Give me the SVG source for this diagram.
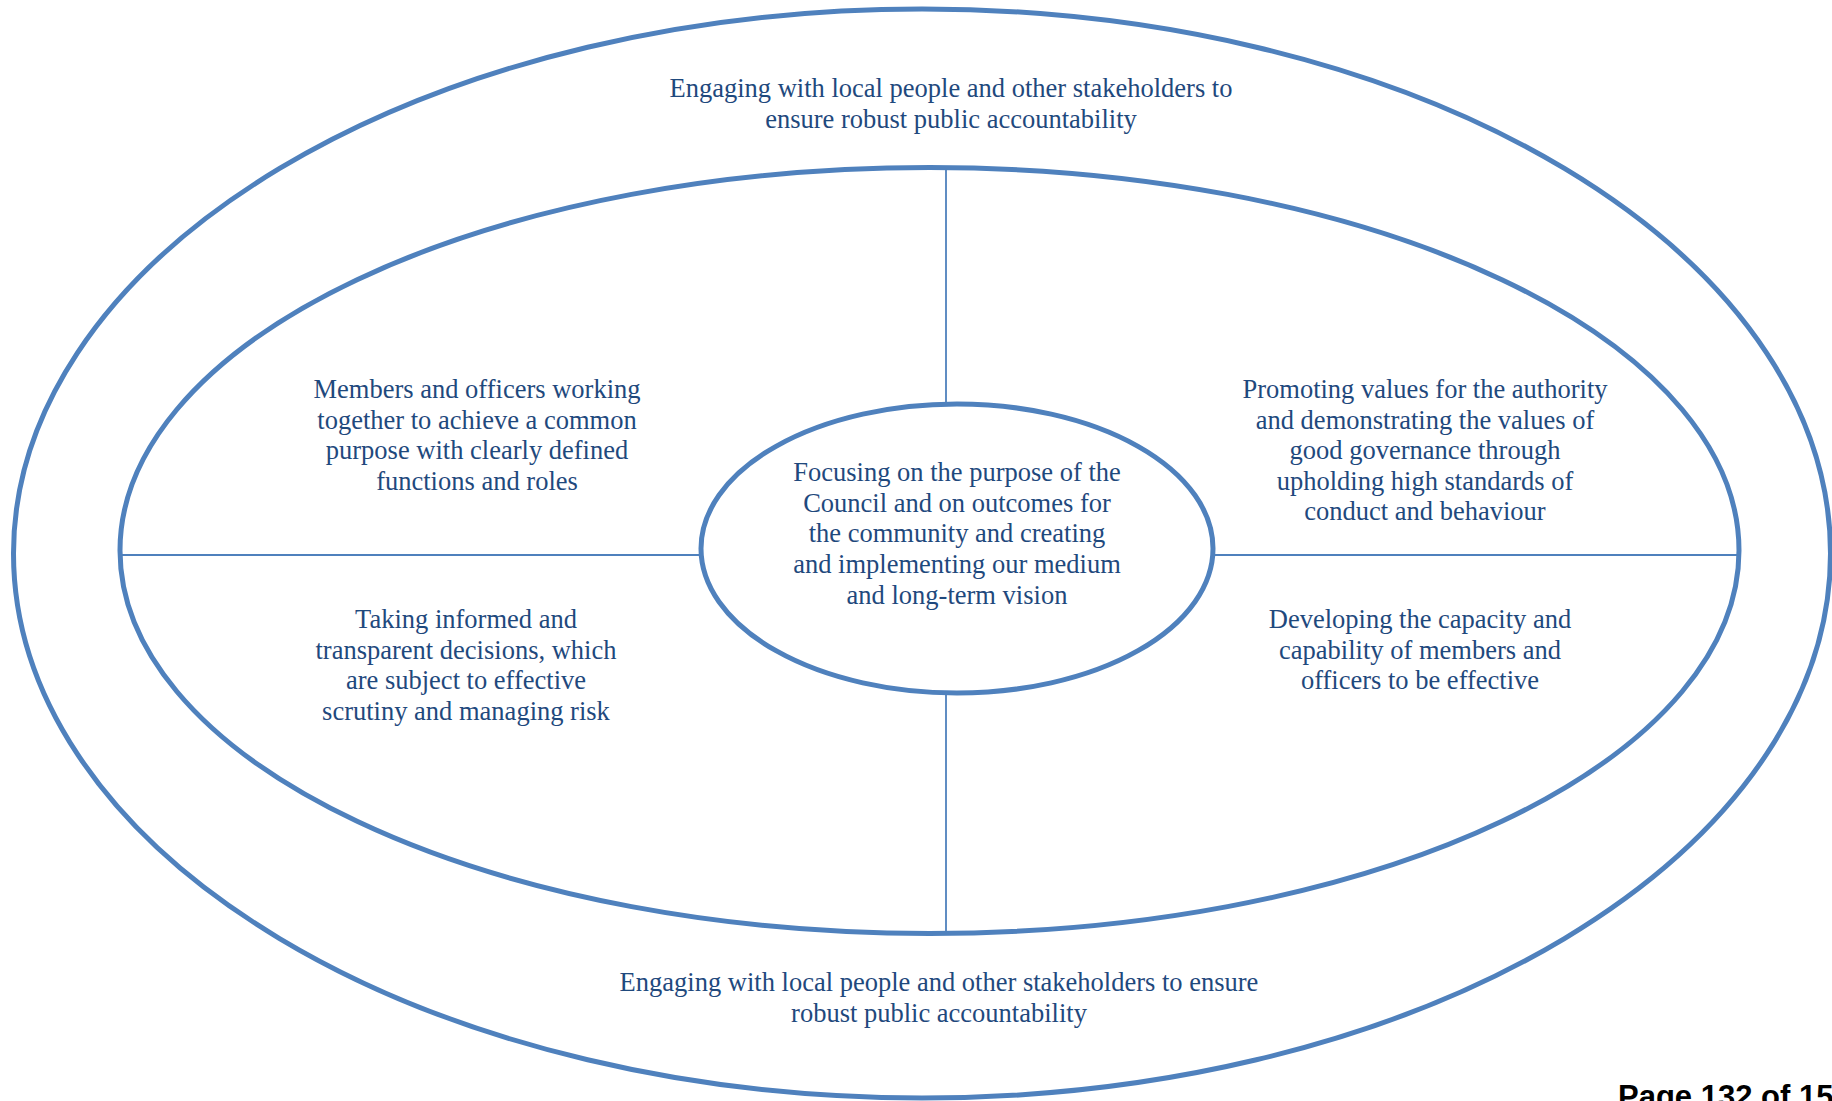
<svg xmlns="http://www.w3.org/2000/svg" width="1832" height="1101" viewBox="0 0 1832 1101">
  <style>
    .ring { fill: none; stroke: #4F81BD; stroke-width: 5; }
    .conn { stroke: #4F81BD; stroke-width: 1.8; fill: none; }
    .lbl { font-family: "Liberation Serif", "Times New Roman", serif; font-size: 26.5px; fill: #1F497D; text-anchor: middle; }
    .foot { font-family: "Liberation Sans", Arial, sans-serif; font-size: 31px; font-weight: bold; fill: #000; }
  </style>
  <rect width="1832" height="1101" fill="#fff"/>
  <g id="outer-ring">
    <ellipse class="ring" cx="922" cy="553.5" rx="908.5" ry="544.5"/>
    <text class="lbl" x="951" y="97">Engaging with local people and other stakeholders to</text>
    <text class="lbl" x="951" y="128">ensure robust public accountability</text>
    <text class="lbl" x="939" y="991">Engaging with local people and other stakeholders to ensure</text>
    <text class="lbl" x="939" y="1022">robust public accountability</text>
  </g>
  <g id="inner-ring">
    <ellipse class="ring" cx="929.5" cy="550.5" rx="809.5" ry="383"/>
  </g>
  <g id="connectors">
    <line class="conn" x1="122" y1="555" x2="701" y2="555"/>
    <line class="conn" x1="1213" y1="555" x2="1737" y2="555"/>
    <line class="conn" x1="946" y1="169" x2="946" y2="404"/>
    <line class="conn" x1="946" y1="693" x2="946" y2="932"/>
  </g>
  <g id="center">
    <ellipse class="ring" cx="957" cy="548.5" rx="256" ry="144.5"/>
    <text class="lbl" x="957" y="481">Focusing on the purpose of the</text>
    <text class="lbl" x="957" y="512">Council and on outcomes for</text>
    <text class="lbl" x="957" y="542">the community and creating</text>
    <text class="lbl" x="957" y="573">and implementing our medium</text>
    <text class="lbl" x="957" y="604">and long-term vision</text>
  </g>
  <g id="top-left">
    <text class="lbl" x="477" y="398">Members and officers working</text>
    <text class="lbl" x="477" y="429">together to achieve a common</text>
    <text class="lbl" x="477" y="459">purpose with clearly defined</text>
    <text class="lbl" x="477" y="490">functions and roles</text>
  </g>
  <g id="top-right">
    <text class="lbl" x="1425" y="398">Promoting values for the authority</text>
    <text class="lbl" x="1425" y="429">and demonstrating the values of</text>
    <text class="lbl" x="1425" y="459">good governance through</text>
    <text class="lbl" x="1425" y="490">upholding high standards of</text>
    <text class="lbl" x="1425" y="520">conduct and behaviour</text>
  </g>
  <g id="bottom-left">
    <text class="lbl" x="466" y="628">Taking informed and</text>
    <text class="lbl" x="466" y="659">transparent decisions, which</text>
    <text class="lbl" x="466" y="689">are subject to effective</text>
    <text class="lbl" x="466" y="720">scrutiny and managing risk</text>
  </g>
  <g id="bottom-right">
    <text class="lbl" x="1420" y="628">Developing the capacity and</text>
    <text class="lbl" x="1420" y="659">capability of members and</text>
    <text class="lbl" x="1420" y="689">officers to be effective</text>
  </g>
  <g id="footer">
    <text class="foot" x="1618" y="1107">Page 132 of 15</text>
  </g>
</svg>
